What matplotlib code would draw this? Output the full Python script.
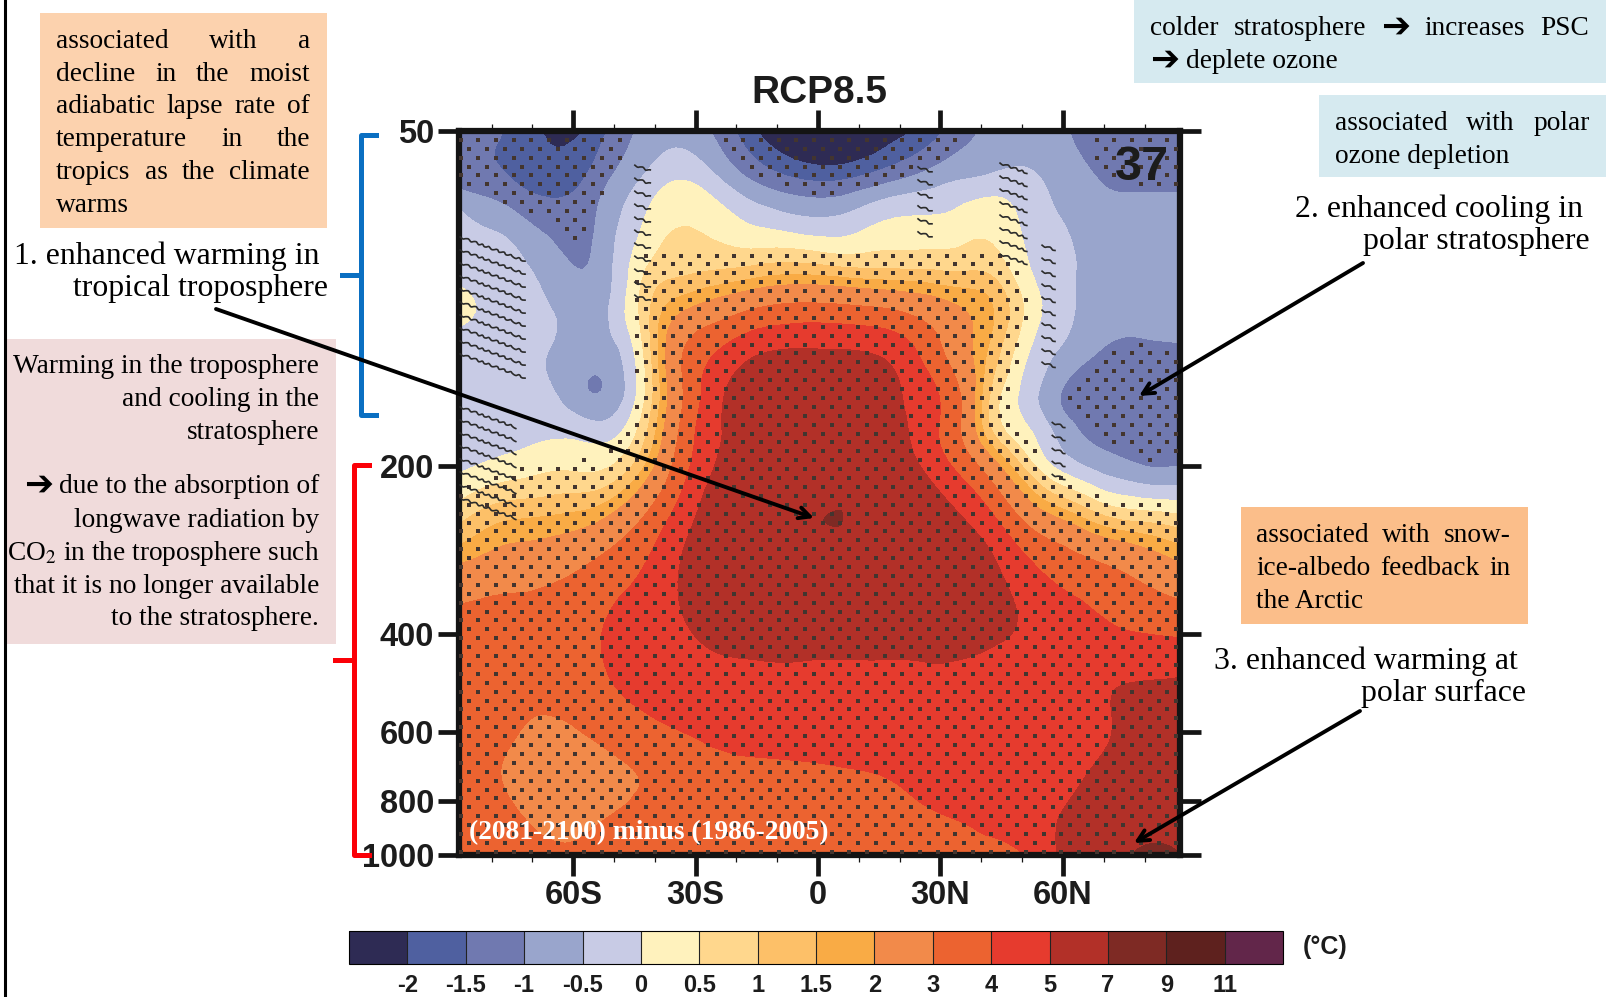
import numpy as np
import matplotlib
matplotlib.use("Agg")
import matplotlib.pyplot as plt
import matplotlib.tri as mtri
from matplotlib.patches import Rectangle

plt.rcParams['font.family'] = ['Liberation Sans', 'DejaVu Sans']
plt.rcParams['mathtext.fontset'] = 'stix'
SERIF = ['Liberation Serif', 'DejaVu Sans']
ARROW = '\u2794'

# zonal mean temperature change (degC), rows are pressure, columns latitude
lats = [-88, -75, -60, -53, -42, -35, -25, -15, 4, 15, 25, 35, 42, 50, 60, 70, 80, 89]
plevs = [50, 60, 70, 85, 100, 125, 150, 175, 200, 250, 300, 400, 500, 600, 700, 850, 1000]
t_50 = [-1.25, -1.6, -2.1, -1.6, -0.85, -0.7, -1.1, -2.0, -3.0, -2.4, -1.9, -1.2, -0.9, -0.75, -0.95, -1.2, -1.3, -1.3]
t_60 = [-1.3, -1.55, -1.7, -1.2, -0.45, -0.1, -0.5, -1.2, -1.7, -1.35, -0.95, -0.6, -0.48, -0.42, -0.75, -1.05, -1.15, -1.15]
t_70 = [-0.45, -0.95, -1.3, -0.9, 0.0, 0.4, 0.2, -0.3, -0.6, -0.2, -0.05, 0.1, 0.25, -0.1, -0.55, -0.85, -0.85, -0.85]
t_85 = [-0.3, -0.35, -1.04, -0.8, 0.4, 0.7, 0.75, 0.8, 0.7, 0.7, 0.7, 0.7, 0.7, 0.1, -0.4, -0.7, -0.8, -0.8]
t_100 = [0.1, -0.2, -0.75, -0.7, 0.8, 1.5, 2.0, 2.5, 2.7, 2.5, 2.2, 1.8, 1.5, 0.5, -0.35, -0.7, -0.8, -0.8]
t_125 = [-0.2, -0.2, -0.75, -0.8, 0.7, 2.6, 4.0, 4.9, 5.1, 4.9, 3.9, 2.4, 1.4, 0.2, -0.6, -1.05, -1.1, -1.05]
t_150 = [-0.25, -0.2, -0.75, -0.96, 0.6, 2.5, 4.7, 5.7, 5.9, 5.6, 4.5, 3.0, 1.0, -0.1, -1.05, -1.3, -1.3, -1.2]
t_175 = [-0.3, -0.15, -0.1, -0.2, 1.0, 2.8, 4.85, 5.5, 6.3, 6.0, 4.6, 3.0, 1.2, 0.2, -0.7, -1.2, -1.3, -1.2]
t_200 = [-0.1, 0.2, 0.4, 0.4, 1.6, 3.2, 5.05, 5.8, 6.4, 6.2, 5.0, 3.7, 2.5, 1.0, -0.2, -0.7, -1.0, -1.0]
t_250 = [0.9, 1.5, 1.7, 2.0, 3.2, 4.3, 5.6, 6.3, 7.03, 6.4, 6.0, 5.1, 4.3, 3.0, 2.0, 1.2, 0.9, 0.7]
t_300 = [2.0, 2.4, 2.8, 3.2, 4.05, 4.9, 5.5, 6.1, 6.3, 6.2, 6.1, 5.7, 5.2, 4.3, 3.5, 3.0, 2.5, 2.0]
t_400 = [3.4, 3.5, 3.7, 4.0, 4.6, 4.85, 5.2, 5.45, 5.4, 5.45, 5.45, 5.4, 5.2, 4.9, 4.5, 4.2, 4.0, 3.9]
t_500 = [3.3, 3.2, 3.4, 3.8, 4.3, 4.5, 4.6, 4.6, 4.6, 4.6, 4.6, 4.6, 4.4, 4.3, 4.5, 4.9, 5.1, 5.2]
t_600 = [3.3, 3.05, 2.95, 3.2, 3.7, 3.95, 4.2, 4.3, 4.3, 4.3, 4.3, 4.3, 4.2, 4.2, 4.5, 4.9, 5.4, 5.6]
t_700 = [3.4, 2.9, 2.7, 2.8, 3.1, 3.4, 3.75, 3.85, 3.97, 4.05, 4.2, 4.3, 4.3, 4.3, 4.6, 5.2, 5.7, 5.9]
t_850 = [3.5, 3.1, 2.8, 2.95, 3.2, 3.4, 3.5, 3.55, 3.65, 3.7, 3.9, 4.05, 4.2, 4.5, 5.05, 5.8, 6.4, 6.4]
t_1000 = [3.4, 3.3, 3.1, 3.2, 3.3, 3.3, 3.4, 3.4, 3.4, 3.5, 3.6, 3.7, 3.8, 3.95, 5.2, 6.3, 7.2, 7.0]
temp = np.array([t_50, t_60, t_70, t_85, t_100, t_125, t_150, t_175, t_200,
                 t_250, t_300, t_400, t_500, t_600, t_700, t_850, t_1000])

levels = [-2, -1.5, -1, -0.5, 0, 0.5, 1, 1.5, 2, 3, 4, 5, 7, 9, 11]
level_labels = ['-2', '-1.5', '-1', '-0.5', '0', '0.5', '1', '1.5', '2', '3', '4', '5', '7', '9', '11']
colors = ['#2e2b54', '#4f60a0', '#7079b0', '#99a5cc', '#c8cbe5', '#fff2bd', '#ffd78d', '#fdc068',
          '#f9ab45', '#f28a4a', '#ec6330', '#e63b2e', '#b23028', '#7e2a24', '#5e211e', '#62264a']

lat_ticks = [-60, -30, 0, 30, 60]
lat_labels = ['60S', '30S', '0', '30N', '60N']
lat_minor = [-80, -70, -50, -40, -20, -10, 10, 20, 40, 50, 70, 80]
p_ticks = [50, 200, 400, 600, 800, 1000]

# hatched (no agreement) patches: lat range and pressure range
hatch_lat0 = [-87.7, -87.7, -44.9, 24.5, 44.6, 54.9, 57.4]
hatch_lat1 = [-71.8, -74.0, -41.2, 27.9, 51.2, 58.1, 60.5]
hatch_p0 = [77.5, 156.6, 57.6, 58.0, 57.1, 80.2, 167]
hatch_p1 = [126.9, 235, 100, 77.5, 85.4, 132, 210]

W, H = 1616, 997
fig = plt.figure(figsize=(W / 100, H / 100), dpi=100)

# overlay in reference pixels, for boxes and text
over = fig.add_axes([0, 0, 1, 1], zorder=3)
over.set_xlim(0, W)
over.set_ylim(H, 0)
over.axis('off')
over.patch.set_alpha(0)

left, right, top, bottom = 459, 1180, 131, 855
ax = fig.add_axes([left / W, 1 - bottom / H, (right - left) / W, (bottom - top) / H], zorder=1)

# round off the contours with the tri refiner, in (lat, log p)
SCALE = 59.2
lon2d, lp2d = np.meshgrid(lats, SCALE * np.log(plevs))
tri_base = mtri.Triangulation(lon2d.ravel(), lp2d.ravel())
tri_fine, temp_fine = mtri.UniformTriRefiner(tri_base).refine_field(temp.ravel(), subdiv=3)
tri_plot = mtri.Triangulation(tri_fine.x, np.exp(tri_fine.y / SCALE), tri_fine.triangles)
cf = ax.tricontourf(tri_plot, temp_fine, levels=levels, colors=colors[1:-1], extend='both')
cf.cmap.set_under(colors[0])
cf.cmap.set_over(colors[-1])
cf.changed()
ax.set_yscale('log')
ax.set_ylim(1000, 50)
ax.set_xlim(-88, 88.7)


def field_at(lat_pts, p_pts):
    # bilinear lookup on the table, log p in the vertical
    by_lat = np.array([np.interp(lat_pts, lats, row) for row in temp])
    return np.array([np.interp(np.log(p_pts), np.log(plevs), by_lat[:, i]) for i in range(len(lat_pts))])


# stippling, staggered rows
dot_lat = np.arange(-87.6, 88.7, 2.165)
dot_p = 50 * np.exp(np.arange(1, 82) * 8.9 / 241.7)
dot_t = field_at(dot_lat, dot_p)
xs, ys = [], []
for i, la in enumerate(dot_lat):
    for j, pp in enumerate(dot_p):
        if (i + j) % 2:
            continue
        if (dot_t[i, j] > 0.3 and pp > 82) or dot_t[i, j] < -1.05:
            xs.append(la)
            ys.append(pp)
ax.scatter(xs, ys, s=5.5, marker='s', c='#43352f', linewidths=0, zorder=3)

# hatching
for la0, la1, p0, p1 in zip(hatch_lat0, hatch_lat1, hatch_p0, hatch_p1):
    for pp in 50 * np.exp(np.arange(np.log(p0 / 50) * 241.7, np.log(p1 / 50) * 241.7, 13) / 241.7):
        drop = np.exp(0.37 * (la1 - la0) * 4.08 / 241.7)
        ln, = ax.plot([la0, la1], [pp, pp * drop], color='#2b2b2b', lw=1.2, zorder=3)
        ln.set_sketch_params(scale=1.0, length=9, randomness=2)

for s in ax.spines.values():
    s.set_linewidth(4.5)
    s.set_color('#141414')
ax.set_xticks(lat_ticks, lat_labels)
ax.set_xticks(lat_minor, minor=True)
ax.set_yticks(p_ticks, [str(p) for p in p_ticks])
ax.yaxis.set_minor_locator(matplotlib.ticker.NullLocator())
ax.tick_params(axis='both', which='major', length=15, width=3.4, color='#141414', labelsize=23.5, pad=3,
               top=True, right=True)
ax.tick_params(axis='x', which='minor', length=5, width=0.9, top=True, bottom=True, color='#141414')
for lab in ax.get_xticklabels() + ax.get_yticklabels():
    lab.set_fontweight('bold')
    lab.set_color('#1c1c1c')
ax.text(0.5, 1.028, 'RCP8.5', transform=ax.transAxes, ha='center', va='bottom', fontsize=28, fontweight='bold',
        color='#1c1c1c')
ax.text(0.985, 0.981, '37', transform=ax.transAxes, ha='right', va='top', fontsize=35, fontweight='bold',
        color='#1c1c1c', zorder=5)
ax.text(0.0145, 0.0135, '(2081-2100) minus (1986-2005)', transform=ax.transAxes, ha='left', va='bottom',
        family=SERIF, fontsize=19.8, fontweight='bold', color='white', zorder=5)

# colour bar
cax = fig.add_axes([349 / W, 1 - 964 / H, (1283 - 349) / W, 33 / H])
cb = fig.colorbar(cf, cax=cax, orientation='horizontal', spacing='uniform', extendrect=True,
                  extendfrac='auto', drawedges=True, ticks=levels)
cb.dividers.set_color('#222222')
cb.dividers.set_linewidth(0.8)
cb.outline.set_linewidth(0.8)
cb.ax.set_xticklabels(level_labels, fontsize=17, fontweight='bold', color='#1c1c1c')
cb.ax.tick_params(length=0, pad=7)
over.text(1325, 947, '(°C)', ha='center', va='center', fontsize=18, fontweight='bold', color='#1c1c1c')


def put(x, y, s, fs=19.75, ha='right'):
    return over.text(x, y, s, ha=ha, va='baseline', family=SERIF, fontsize=fs, color='black')


def put_arrow(x, y):
    return over.text(x, y + 2, ARROW, ha='left', va='baseline', family='DejaVu Sans', fontsize=25,
                     fontweight='bold', color='black')


def justified(words, x0, x1, y, fs=19.75):
    # spread the words over the full width, as in the text boxes
    items = [put_arrow(x0, y) if w == ARROW else put(x0, y, w, fs, 'left') for w in words]
    rend = fig.canvas.get_renderer()
    widths = [t.get_window_extent(rend).width for t in items]
    gap = (x1 - x0 - sum(widths)) / (len(words) - 1)
    x = x0
    for t, wd in zip(items, widths):
        t.set_x(x)
        x += wd + gap


# left edge rule
over.plot([5, 5], [0, H], color='black', lw=2.2)

# boxes
over.add_patch(Rectangle((40, 13), 287, 215, fc='#fcd2ae', ec='none'))
over.add_patch(Rectangle((7, 339), 329, 305, fc='#f0dbdb', ec='none'))
over.add_patch(Rectangle((1134, 0), 472, 83, fc='#d6eaf0', ec='none'))
over.add_patch(Rectangle((1319, 95), 287, 82, fc='#d6eaf0', ec='none'))
over.add_patch(Rectangle((1241, 507), 287, 117, fc='#fbbe8a', ec='none'))

justified(['associated', 'with', 'a'], 56, 310, 48)
justified(['decline', 'in', 'the', 'moist'], 56, 310, 81)
justified(['adiabatic', 'lapse', 'rate', 'of'], 56, 310, 113)
justified(['temperature', 'in', 'the'], 56, 310, 146)
justified(['tropics', 'as', 'the', 'climate'], 56, 310, 179)
put(56, 212, 'warms', ha='left')

put(319, 373, 'Warming in the troposphere')
put(319, 406, 'and cooling in the')
put(319, 439, 'stratosphere')
put_arrow(24, 493)
put(319, 493, 'due to the absorption of')
put(319, 527, 'longwave radiation by')
put(319, 560, 'CO$_{2}$ in the troposphere such')
put(319, 593, 'that it is no longer available')
put(319, 625, 'to the stratosphere.')

justified(['colder', 'stratosphere', ARROW, 'increases', 'PSC'], 1150, 1589, 35)
put_arrow(1150, 68)
put(1186, 68, 'deplete ozone', ha='left')
justified(['associated', 'with', 'polar'], 1335, 1590, 130)
put(1335, 163, 'ozone depletion', ha='left')
justified(['associated', 'with', 'snow-'], 1256, 1511, 542)
justified(['ice-albedo', 'feedback', 'in'], 1256, 1511, 575)
put(1256, 608, 'the Arctic', ha='left')

put(319, 264, '1. enhanced warming in', 22.9)
put(328, 296, 'tropical troposphere', 22.9)
put(1583, 217, '2. enhanced cooling in', 22.9)
put(1590, 249, 'polar stratosphere', 22.9)
put(1518, 669, '3. enhanced warming at', 22.9)
put(1526, 701, 'polar surface', 22.9)

# arrows
for x0, y0, x1, y1 in [(216, 309, 814, 518), (1363, 263, 1139, 396), (1360, 711, 1134, 843)]:
    over.annotate('', xy=(x1, y1), xytext=(x0, y0),
                  arrowprops=dict(arrowstyle='->,head_length=0.8,head_width=0.4', color='black', lw=2.8,
                                  shrinkA=0, shrinkB=0))

# brackets
over.plot([376, 361, 361, 376], [135, 135, 415, 415], color='#0a6fc2', lw=3.6, solid_joinstyle='round')
over.plot([342, 361], [275, 275], color='#0a6fc2', lw=3.6)
over.plot([369, 354, 354, 369], [465, 465, 855, 855], color='#fb0007', lw=3.6, solid_joinstyle='round')
over.plot([335, 354], [660, 660], color='#fb0007', lw=3.6)

fig.savefig('out.png', dpi=100)
